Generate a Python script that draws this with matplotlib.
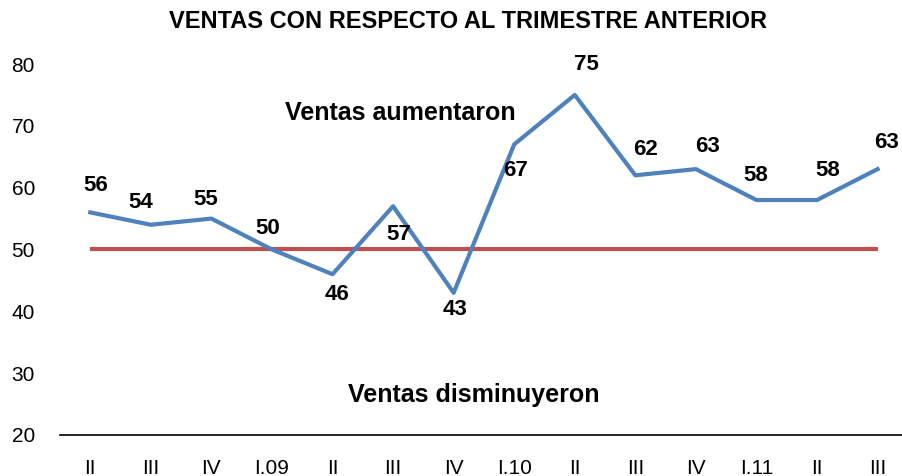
import matplotlib
matplotlib.use("Agg")
import matplotlib.pyplot as plt

plt.rcParams['font.family'] = ['Liberation Sans', 'DejaVu Sans']

quarters = ["II", "III", "IV", "I.09", "II", "III", "IV", "I.10",
            "II", "III", "IV", "I.11", "II", "III"]
ventas = [56, 54, 55, 50, 46, 57, 43, 67, 75, 62, 63, 58, 58, 63]
referencia = [50] * len(quarters)

# label offsets in pixels (dx, dy) relative to each point
label_dx = [5, -10, -6, -4, 4, 6, 1, 1, 12, 10, 12, -1, 11, 9]
label_dy = [27, 22, 19, 21, -20, -28, -17, -26, 30, 26, 23, 25, 30, 27]

fig = plt.figure(figsize=(9.03, 4.76), dpi=100)
ax = fig.add_axes([60 / 903, 41 / 476, 1 - 60 / 903, 371 / 476])

x = list(range(len(quarters)))
ax.plot(x, referencia, color="#C0504D", lw=3, solid_capstyle="butt")
ax.plot(x, ventas, color="#4F81BD", lw=3)

for i, v in enumerate(ventas):
    ax.annotate(str(v), (i, v), xytext=(label_dx[i], label_dy[i]),
                textcoords="offset pixels", ha="center", va="center",
                fontsize=16, fontweight="bold")

ax.text(400, 476 - 113, "Ventas aumentaron", transform=None, fontsize=18,
        fontweight="bold", ha="center", va="center")
ax.text(474, 476 - 395, "Ventas disminuyeron", transform=None, fontsize=18,
        fontweight="bold", ha="center", va="center")

ax.set_xlim(-0.5, 13.42)
ax.set_ylim(20, 80)
ax.set_xticks(x)
ax.set_xticklabels(quarters)
ax.set_yticks(range(20, 81, 10))
ax.tick_params(axis="x", length=0, pad=17, labelsize=15)
ax.tick_params(axis="y", length=0, pad=18, labelsize=15)
for s in ["top", "right", "left"]:
    ax.spines[s].set_visible(False)
ax.spines["bottom"].set_linewidth(1.2)

fig.text(468 / 903, 1 - 21 / 476, "VENTAS CON RESPECTO AL TRIMESTRE ANTERIOR",
         fontsize=17, fontweight="bold", ha="center", va="center")

fig.savefig("out.png", dpi=100)
